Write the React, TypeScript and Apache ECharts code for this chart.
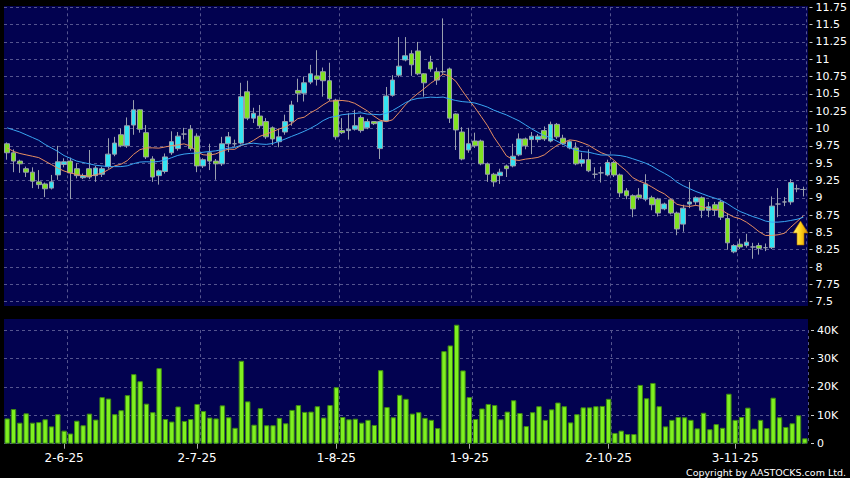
import { useEffect, useRef } from "react";
import * as echarts from "echarts";

// Trading days shown (day numbers per month, 2025)
const YEAR = "25";
const monthDays: [number, number[]][] = [
  [5, [20, 21, 22, 23, 26, 27, 28, 29, 30]],
  [6, [2, 3, 4, 5, 6, 9, 10, 11, 12, 13, 16, 17, 18, 19, 20, 23, 24, 25, 26, 27, 30]],
  [7, [2, 3, 4, 7, 8, 9, 10, 11, 14, 15, 16, 17, 18, 21, 22, 23, 24, 25, 28, 29, 30, 31]],
  [8, [1, 4, 5, 6, 7, 8, 11, 12, 13, 14, 15, 18, 19, 20, 21, 22, 25, 26, 27, 28, 29]],
  [9, [1, 2, 3, 4, 5, 8, 9, 10, 11, 12, 15, 16, 17, 18, 19, 22, 23, 24, 25, 26, 29, 30]],
  [10, [2, 3, 6, 8, 9, 10, 13, 14, 15, 16, 17, 20, 21, 22, 23, 24, 27, 28, 30, 31]],
  [11, [3, 4, 5, 6, 7, 10, 11, 12, 13, 14, 17, 18]],
];

const opens = [
  9.78, 9.65, 9.53, 9.42, 9.37, 9.23, 9.2, 9.14, 9.33, 9.48,
  9.53, 9.42, 9.29, 9.42, 9.32, 9.34, 9.45, 9.63, 9.91, 9.75,
  10.05, 10.27, 9.94, 9.56, 9.32, 9.38, 9.65, 9.71, 9.92, 9.99,
  9.89, 9.46, 9.65, 9.53, 9.49, 9.78, 9.78, 9.79, 10.53, 10.15,
  10.18, 10.1, 10.01, 9.81, 9.95, 10.1, 10.55, 10.51, 10.67, 10.76,
  10.82, 10.69, 10.41, 9.97, 9.97, 9.99, 10.16, 10.01, 10.1, 9.71,
  10.11, 10.48, 10.77, 10.99, 11.08, 11.12, 10.79, 10.96, 10.82, 10.82,
  10.86, 10.21, 9.95, 9.69, 9.82, 9.82, 9.49, 9.34, 9.32, 9.46,
  9.46, 9.62, 9.85, 9.84, 9.84, 9.97, 9.82, 10.06, 9.86, 9.72,
  9.72, 9.5, 9.55, 9.34, 9.36, 9.33, 9.51, 9.33, 9.1, 9.03,
  9.04, 8.98, 9.0, 8.98, 8.84, 8.97, 8.78, 8.62, 8.91, 8.94,
  9.0, 8.82, 8.9, 8.94, 8.7, 8.22, 8.33, 8.31, 8.29, 8.31,
  8.28, 8.28, 8.91, 8.94, 8.94, 9.13, 9.12,
];
const closes = [
  9.65, 9.53, 9.49, 9.37, 9.24, 9.19, 9.13, 9.23, 9.52, 9.52,
  9.36, 9.32, 9.32, 9.3, 9.43, 9.42, 9.63, 9.79, 9.75, 10.04,
  10.27, 9.99, 9.59, 9.3, 9.39, 9.59, 9.81, 9.89, 9.92, 9.71,
  9.46, 9.55, 9.53, 9.49, 9.78, 9.88, 9.78, 10.46, 10.15, 10.22,
  10.04, 9.88, 9.85, 9.88, 10.1, 10.34, 10.51, 10.66, 10.79, 10.71,
  10.69, 10.43, 9.88, 9.94, 9.99, 10.04, 9.97, 10.1, 10.07, 10.1,
  10.47, 10.7, 10.9, 11.05, 10.92, 10.79, 10.66, 10.86, 10.7, 10.82,
  10.15, 9.98, 9.56, 9.78, 9.75, 9.49, 9.34, 9.23, 9.37, 9.42,
  9.6, 9.85, 9.75, 9.89, 9.89, 9.85, 10.06, 9.88, 9.78, 9.81,
  9.49, 9.55, 9.39, 9.34, 9.36, 9.51, 9.33, 9.07, 9.03, 8.84,
  9.0, 9.2, 8.9, 8.78, 8.91, 8.78, 8.55, 8.85, 8.94, 9.0,
  8.82, 8.87, 8.82, 8.72, 8.35, 8.31, 8.29, 8.36, 8.29, 8.27,
  8.28, 8.88, 8.91, 8.94, 9.22, 9.13, 9.12,
];
const lows = [
  9.55, 9.37, 9.36, 9.3, 9.14, 9.13, 9.01, 9.12, 9.26, 9.44,
  8.98, 9.28, 9.27, 9.27, 9.23, 9.3, 9.42, 9.6, 9.73, 9.72,
  9.91, 9.94, 9.56, 9.23, 9.19, 9.35, 9.62, 9.68, 9.84, 9.68,
  9.37, 9.43, 9.4, 9.26, 9.46, 9.66, 9.74, 9.77, 10.12, 10.08,
  10.0, 9.85, 9.76, 9.73, 9.91, 10.04, 10.38, 10.39, 10.64, 10.62,
  10.46, 10.4, 9.84, 9.92, 9.84, 9.97, 9.94, 9.99, 10.05, 9.56,
  10.1, 10.46, 10.74, 10.97, 10.76, 10.77, 10.46, 10.82, 10.63, 10.79,
  10.08, 9.69, 9.54, 9.65, 9.72, 9.47, 9.23, 9.16, 9.2, 9.3,
  9.44, 9.6, 9.7, 9.63, 9.8, 9.82, 9.8, 9.85, 9.76, 9.7,
  9.47, 9.45, 9.37, 9.28, 9.22, 9.31, 9.3, 9.01, 8.98, 8.72,
  8.97, 8.95, 8.82, 8.73, 8.82, 8.76, 8.46, 8.51, 8.85, 8.9,
  8.71, 8.72, 8.74, 8.68, 8.25, 8.2, 8.26, 8.28, 8.12, 8.18,
  8.23, 8.26, 8.72, 8.88, 8.9, 9.08, 9.02,
];
const highs = [
  9.8, 9.7, 9.55, 9.45, 9.44, 9.4, 9.22, 9.33, 9.75, 9.57,
  9.58, 9.5, 9.35, 9.69, 9.46, 9.45, 9.86, 9.88, 10.0, 10.16,
  10.41, 10.28, 10.05, 9.6, 9.41, 9.64, 9.96, 9.95, 10.01, 10.05,
  9.93, 9.57, 9.78, 9.56, 9.88, 9.95, 9.84, 10.66, 10.69, 10.3,
  10.34, 10.15, 10.03, 10.0, 10.2, 10.4, 10.72, 10.75, 10.92, 11.13,
  10.88, 10.95, 10.43, 10.15, 10.22, 10.27, 10.19, 10.14, 10.1, 10.11,
  10.6, 10.77, 11.32, 11.32, 11.13, 11.25, 10.8, 11.05, 10.88, 11.59,
  10.88, 10.22, 10.02, 10.01, 9.94, 9.84, 9.51, 9.36, 9.42, 9.48,
  9.78, 9.93, 9.87, 9.95, 9.92, 10.03, 10.1, 10.08, 9.91, 9.83,
  9.8, 9.65, 9.7, 9.44, 9.45, 9.55, 9.53, 9.35, 9.14, 9.05,
  9.14, 9.34, 9.03, 9.0, 8.93, 8.99, 8.8, 8.9, 9.23, 9.02,
  9.02, 8.94, 8.94, 8.97, 8.78, 8.33, 8.41, 8.48, 8.35, 8.35,
  8.34, 9.02, 9.14, 9.01, 9.27, 9.19, 9.16,
];
// Volume in thousands of shares
const volumesK = [
  8.9, 12.2, 7.4, 10.7, 7.4, 7.6, 8.6, 6.1, 10.4, 4.6,
  3.6, 8.1, 6.5, 10.6, 8.5, 16.4, 15.9, 10.4, 11.8, 17.1,
  24.5, 22.0, 14.1, 11.1, 26.6, 8.7, 7.8, 13.1, 8.0, 8.7,
  14.0, 11.5, 9.2, 8.9, 13.5, 9.3, 5.6, 29.2, 14.9, 6.7,
  12.5, 6.5, 6.5, 9.1, 7.2, 11.9, 13.6, 11.2, 11.3, 13.2,
  9.2, 13.6, 19.9, 9.4, 8.6, 8.8, 7.4, 8.4, 6.6, 25.9,
  12.9, 9.3, 17.2, 15.8, 10.6, 11.1, 9.1, 8.4, 5.5, 32.6,
  34.6, 41.9, 25.8, 16.4, 8.7, 12.4, 14.0, 13.6, 8.6, 11.3,
  15.3, 10.8, 6.2, 11.1, 13.2, 8.4, 12.1, 14.5, 13.2, 7.5,
  10.4, 12.8, 12.8, 13.2, 13.3, 15.8, 3.8, 4.6, 3.4, 3.4,
  20.7, 16.0, 21.4, 13.2, 6.1, 8.4, 9.4, 9.3, 8.4, 5.4,
  10.9, 5.1, 6.9, 5.6, 17.6, 8.4, 9.4, 12.7, 5.3, 8.4,
  5.5, 16.2, 9.3, 5.9, 7.2, 10.0, 1.9,
];
const ma10Lead = [9.72, 9.67, 9.64, 9.62, 9.6, 9.58, 9.53, 9.48, 9.43];
const ma20Lead = [
  10.01, 9.98, 9.95, 9.91, 9.87, 9.83, 9.77, 9.72, 9.67, 9.61,
  9.57, 9.53, 9.51, 9.49, 9.47, 9.46, 9.45, 9.45, 9.45,
];
const priceTicks = { min: 7.5, max: 11.75, step: 0.25 };
const volumeTicks = { min: 0, max: 40000, step: 10000 };

const FONT = "DejaVu Sans";
const NAVY = "#020250";
const GRIDLINE = "#55558f";
const UP = "#33e4f2";
const DOWN = "#80e222";
const WICK = "#9aa0ae";
const VOL = "#7ff020";
const VOLB = "#3e8a12";

const dates: string[] = [];
const monthStart = new Set<number>();
monthDays.forEach(([m, days], mi) => {
  days.forEach((d, di) => {
    if (mi > 0 && di === 0) monthStart.add(dates.length);
    dates.push(`${d}-${m}-${YEAR}`);
  });
});
const splitIdx = new Set<number>([...monthStart].map((i) => i + 1));

const movingAvg = (period: number, lead: number[]) =>
  closes.map((_, i) => {
    if (i < lead.length) return lead[i];
    let s = 0;
    for (let k = i - period + 1; k <= i; k++) s += closes[k];
    return +(s / period).toFixed(4);
  });

export default function App() {
  const ref = useRef<HTMLDivElement>(null);
  useEffect(() => {
    if (!ref.current) return;
    const chart = echarts.init(ref.current, undefined, { renderer: "svg" });
    const ma10 = movingAvg(10, ma10Lead);
    const ma20 = movingAvg(20, ma20Lead);
    const splitLine = {
      show: true,
      lineStyle: { color: GRIDLINE, type: [3, 3] as any, width: 1 },
    };
    chart.setOption({
      animation: false,
      backgroundColor: "#000",
      grid: [
        { left: 4, right: 42, top: 7.3, height: 294.4 },
        { left: 4, right: 42, top: 330.1, height: 113.6 },
      ],
      xAxis: [
        {
          type: "category",
          gridIndex: 0,
          data: dates,
          boundaryGap: true,
          axisLine: { show: false },
          axisTick: { show: false },
          axisLabel: { show: false },
          splitLine: { ...splitLine, interval: (i: number) => splitIdx.has(i) },
        },
        {
          type: "category",
          gridIndex: 1,
          data: dates,
          boundaryGap: true,
          axisLine: { show: false },
          axisTick: {
            show: true,
            alignWithLabel: true,
            length: 5,
            interval: (i: number) => monthStart.has(i),
            lineStyle: { color: "#aaaaaa" },
          },
          axisLabel: {
            interval: (i: number) => monthStart.has(i),
            color: "#ffffff",
            fontFamily: FONT,
            fontSize: 12,
            margin: 8,
          },
          splitLine: { ...splitLine, interval: (i: number) => splitIdx.has(i) },
        },
      ],
      yAxis: [
        {
          type: "value",
          gridIndex: 0,
          position: "right",
          min: priceTicks.min,
          max: priceTicks.max,
          interval: priceTicks.step,
          offset: 3,
          axisLine: { show: false },
          axisTick: { show: true, length: 3, lineStyle: { color: "#cccccc" } },
          axisLabel: { color: "#ffffff", fontFamily: FONT, fontSize: 11, margin: 6 },
          splitLine,
        },
        {
          type: "value",
          gridIndex: 1,
          position: "right",
          min: volumeTicks.min,
          max: volumeTicks.max,
          interval: volumeTicks.step,
          offset: 3,
          axisLine: { show: false },
          axisTick: { show: true, length: 3, lineStyle: { color: "#cccccc" } },
          axisLabel: {
            color: "#ffffff",
            fontFamily: FONT,
            fontSize: 11,
            margin: 6,
            formatter: (v: number) => (v === 0 ? "0" : `${v / 1000}K`),
          },
          splitLine,
        },
      ],
      series: [
        {
          type: "candlestick",
          xAxisIndex: 0,
          yAxisIndex: 0,
          barWidth: 5.2,
          data: opens.map((o, i) => [o, closes[i], lows[i], highs[i]]),
          itemStyle: {
            color: UP,
            color0: DOWN,
            borderColor: WICK,
            borderColor0: WICK,
            borderWidth: 1,
          },
        },
        {
          type: "line",
          xAxisIndex: 0,
          yAxisIndex: 0,
          data: ma10,
          symbol: "none",
          lineStyle: { color: "#e88f62", width: 1 },
          z: 4,
        },
        {
          type: "line",
          xAxisIndex: 0,
          yAxisIndex: 0,
          data: ma20,
          symbol: "none",
          lineStyle: { color: "#3aa6f2", width: 1 },
          z: 4,
        },
        {
          type: "bar",
          xAxisIndex: 1,
          yAxisIndex: 1,
          barWidth: 5.4,
          clip: false,
          data: volumesK.map((v) => v * 1000),
          itemStyle: { color: VOL, borderColor: VOLB, borderWidth: 1 },
        },
      ],
      graphic: [
        { type: "rect", z: -10, shape: { x: 4, y: 6, width: 804, height: 300 }, style: { fill: NAVY } },
        { type: "rect", z: -10, shape: { x: 4, y: 319, width: 804, height: 125 }, style: { fill: NAVY } },
        {
          type: "polygon",
          z: 10,
          shape: {
            points: [
              [800.5, 221], [808, 233], [804, 233], [804, 245],
              [797, 245], [797, 233], [793, 233],
            ],
          },
          style: {
            fill: {
              type: "linear", x: 0, y: 0, x2: 1, y2: 0,
              colorStops: [
                { offset: 0, color: "#fff27a" },
                { offset: 0.5, color: "#ffd21a" },
                { offset: 1, color: "#d98f00" },
              ],
            },
            stroke: "#a86a00",
            lineWidth: 0.6,
          },
        },
        {
          type: "text",
          x: 846,
          y: 472,
          style: {
            text: "Copyright by AASTOCKS.com Ltd.",
            fill: "#ffffff",
            font: `9.5px "${FONT}"`,
            align: "right",
            verticalAlign: "middle",
          },
        },
      ],
    });
    return () => chart.dispose();
  }, []);
  return (
    <div
      ref={ref}
      style={{ position: "absolute", left: 0, top: 0, width: 850, height: 478, background: "#000" }}
    />
  );
}
